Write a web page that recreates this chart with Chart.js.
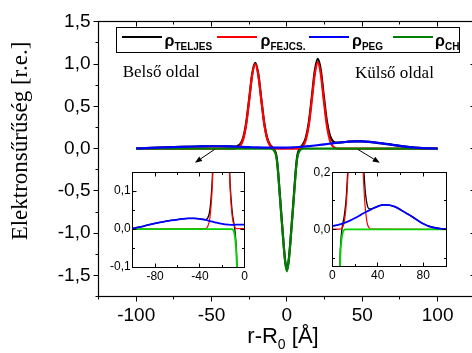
<!DOCTYPE html>
<html>
<head>
<meta charset="utf-8">
<script src="https://cdn.jsdelivr.net/npm/chart.js@4.4.1/dist/chart.umd.min.js"></script>
<style>
  html, body { margin: 0; padding: 0; background: #fff; }
  body { width: 472px; height: 353px; overflow: hidden; position: relative;
         font-family: 'Liberation Sans', Arial, sans-serif; color: #000; }
  canvas { position: absolute; }
  #main   { left: 0; top: 0; }
  #insetL { left: 102px; top: 163px; }
  #insetR { left: 302px; top: 163px; }
  .txt   { position: absolute; white-space: nowrap; }
  .serif { font-family: 'Liberation Serif', 'Times New Roman', serif; }
  #legend { position: absolute; left: 115.7px; top: 26.7px; width: 344.3px; height: 26.6px;
            border: 1px solid #000; box-sizing: border-box; background: #fff; }
  .lg-line { position: absolute; top: 36.2px; height: 2.2px; width: 40px; }
  .lg-lbl  { position: absolute; top: 33px; font-weight: bold; font-size: 16px; line-height: 16px; white-space: nowrap; }
  .lg-lbl span { font-size: 10px; position: relative; top: 3.5px; }
  #ytitle { left: -110px; top: 129px; width: 260px; height: 24px; line-height: 24px; font-size: 23px;
            text-align: center; transform: rotate(-90deg); }
  #xtitle { left: 183px; top: 324.7px; width: 200px; line-height: 22px; font-size: 22px; text-align: center; }
  #xtitle span { font-size: 14px; position: relative; top: 6px; }
</style>
</head>
<body>
<canvas id="main" width="480" height="353"></canvas>
<canvas id="insetL" width="148" height="127"></canvas>
<canvas id="insetR" width="160" height="127"></canvas>

<div id="legend"></div>
<div class="txt serif" style="left:122.7px; top:62.5px; font-size:17px; line-height:17px;">Belső oldal</div>
<div class="txt serif" style="left:355px; top:64.1px; font-size:17px; line-height:17px;">Külső oldal</div>
<div id="ytitle" class="txt serif">Elektronsűrűség [r.e.]</div>
<div id="xtitle" class="txt">r-R<span>0</span> [Å]</div>

<script>
/* ---- adatok ---- */
const SERIES = ['TELJES', 'FEJCS.', 'PEG', 'CH'];

// teljes elektronsűrűség
const xTeljes = [-100, -90, -80, -70, -60, -50, -45, -40, -35, -33, -31, -29, -27, -25, -23, -21, -19, -17, -15, -13,
                 -11, -10, -9, -8, -7, -6, -5, -4, -3, -2, -1, 0, 1, 2, 3, 4, 5, 6, 7, 8, 9, 10, 10.5,
                 12.5, 14.5, 16.5, 18.5, 20.5, 22.5, 24.5, 26.5, 28.5, 30.5, 32.5, 34.5, 40, 45, 50, 60, 70, 80, 90, 100];
const yTeljes = [0.002, 0.008, 0.015, 0.021, 0.025, 0.028, 0.028, 0.027, 0.025, 0.029, 0.052, 0.128, 0.306, 0.592, 0.887, 1.015, 0.885, 0.588, 0.300, 0.121,
                 0.042, 0.022, 0.004, -0.026, -0.083, -0.238, -0.468, -0.708, -0.938, -1.168, -1.348, -1.438, -1.347, -1.166, -0.935, -0.705, -0.464, -0.232, -0.076, -0.017, 0.015, 0.036, 0.047,
                 0.125, 0.303, 0.602, 0.918, 1.061, 0.927, 0.619, 0.328, 0.158, 0.089, 0.072, 0.072, 0.081, 0.086, 0.085, 0.069, 0.045, 0.020, 0.006, 0.001];

// fejcsoport
const xFejcs = [-100, -35, -33, -31, -29, -27, -25, -23, -21, -19, -17, -15, -13, -11, -9, -7,
                6.5, 8.5, 10.5, 12.5, 14.5, 16.5, 18.5, 20.5, 22.5, 24.5, 26.5, 28.5, 30.5, 32.5, 34.5, 100];
const yFejcs = [0, 0.001, 0.007, 0.031, 0.109, 0.288, 0.575, 0.871, 1.000, 0.871, 0.575, 0.288, 0.109, 0.031, 0.007, 0.001,
                0.001, 0.005, 0.026, 0.099, 0.274, 0.569, 0.881, 1.020, 0.881, 0.569, 0.274, 0.099, 0.026, 0.005, 0.001, 0];

// PEG réteg
const xPeg = [-100, -90, -80, -70, -60, -50, -45, -40, -35, -30, -25, -20, -15, -10, -5, 0,
              5, 10, 15, 20, 25, 30, 35, 40, 45, 50, 55, 60, 65, 70, 75, 80, 85, 90, 95, 100];
const yPeg = [0.002, 0.008, 0.015, 0.021, 0.025, 0.028, 0.028, 0.027, 0.024, 0.020, 0.017, 0.014, 0.012, 0.011, 0.012, 0.012,
              0.016, 0.022, 0.030, 0.040, 0.051, 0.062, 0.072, 0.081, 0.086, 0.085, 0.080, 0.069, 0.057, 0.045, 0.032, 0.020, 0.011, 0.006, 0.003, 0.001];

// szénhidrogén lánc
const xCh = [-100, -11, -10, -9, -8, -7, -6, -5, -4, -3, -2, -1, 0, 1, 2, 3, 4, 5, 6, 7, 8, 9, 10, 11, 100];
const yCh = [0, 0, -0.004, -0.014, -0.04, -0.095, -0.25, -0.48, -0.72, -0.95, -1.18, -1.36, -1.45,
             -1.36, -1.18, -0.95, -0.72, -0.48, -0.25, -0.095, -0.04, -0.014, -0.004, 0, 0];

// tengely-osztások
const X_TICKS = [-100, -50, 0, 50, 100];
const X_MINOR = [-125, -75, -25, 25, 75, 125];
const Y_TICKS = [-1.5, -1.0, -0.5, 0.0, 0.5, 1.0, 1.5];
const Y_MINOR = [-1.75, -1.25, -0.75, -0.25, 0.25, 0.75, 1.25];

const XL_TICKS = [-80, -40, 0];
const XL_MINOR = [-100, -60, -20];
const YL_TICKS = [-0.1, 0.0, 0.1];
const YL_MINOR = [-0.05, 0.05, 0.15];

const XR_TICKS = [0, 40, 80];
const XR_MINOR = [20, 60, 100];
const YR_TICKS = [0.0, 0.2];
const YR_MINOR = [-0.1, 0.1];

// nyilak a betétekhez (adatkoordinátában)
const ARROWS = [
  { from: [-48, -0.01], to: [-61, -0.166] },
  { from: [47.2, -0.01], to: [61.6, -0.166] }
];

const SANS = "'Liberation Sans', Arial, sans-serif";
const comma = v => v.toFixed(1).replace('.', ',');

/* ---- keret + osztásvonalak ---- */
const framePlugin = {
  id: 'frame',
  afterDraw(chart, args, o) {
    const { ctx, chartArea: a, scales: { x, y } } = chart;
    const snap = v => Math.round(v - 0.5) + 0.5;
    const L = snap(a.left), R = snap(a.right), T = snap(a.top), B = snap(a.bottom);
    ctx.save();
    ctx.strokeStyle = '#000';
    ctx.lineWidth = o.lw;
    ctx.strokeRect(L, T, R - L, B - T);
    ctx.lineWidth = 1;
    ctx.beginPath();
    const out = o.outside ? 1 : -1;
    const xt = (vals, len) => vals.forEach(v => {
      const px = snap(x.getPixelForValue(v));
      ctx.moveTo(px, B); ctx.lineTo(px, B + out * len);   // alsó
      ctx.moveTo(px, T); ctx.lineTo(px, T + len);         // felső, befelé
    });
    const yt = (vals, len) => vals.forEach(v => {
      const py = snap(y.getPixelForValue(v));
      ctx.moveTo(L, py); ctx.lineTo(L - out * len, py);   // bal
      ctx.moveTo(R, py); ctx.lineTo(R - len, py);         // jobb, befelé
    });
    xt(o.xMajor, o.major); xt(o.xMinor, o.minor);
    yt(o.yMajor, o.major); yt(o.yMinor, o.minor);
    ctx.stroke();
    ctx.restore();
  }
};

/* ---- nyilak ---- */
const arrowPlugin = {
  id: 'arrows',
  afterDatasetsDraw(chart, args, o) {
    if (!o.list) return;
    const { ctx, scales: { x, y } } = chart;
    ctx.save();
    ctx.strokeStyle = '#000';
    ctx.fillStyle = '#000';
    ctx.lineWidth = 1;
    o.list.forEach(ar => {
      const x0 = x.getPixelForValue(ar.from[0]), y0 = y.getPixelForValue(ar.from[1]);
      const x1 = x.getPixelForValue(ar.to[0]),   y1 = y.getPixelForValue(ar.to[1]);
      const ang = Math.atan2(y1 - y0, x1 - x0);
      const hl = 7, hw = 2.8;
      const bx = x1 - hl * Math.cos(ang), by = y1 - hl * Math.sin(ang);
      ctx.beginPath(); ctx.moveTo(x0, y0); ctx.lineTo(bx, by); ctx.stroke();
      ctx.beginPath();
      ctx.moveTo(x1, y1);
      ctx.lineTo(bx + hw * Math.sin(ang), by - hw * Math.cos(ang));
      ctx.lineTo(bx - hw * Math.sin(ang), by + hw * Math.cos(ang));
      ctx.closePath(); ctx.fill();
    });
    ctx.restore();
  }
};

function lineDs(label, xs, ys, color, width, order) {
  return {
    label, order,
    data: xs.map((x, i) => ({ x, y: ys[i] })),
    borderColor: color,
    borderWidth: width,
    pointRadius: 0,
    fill: false,
    cubicInterpolationMode: 'monotone',
    clip: 0
  };
}

function axis(min, max, ticks, fmt, size, pad, fitKey, fitVal) {
  return {
    type: 'linear', min, max,
    grid: { display: false, drawTicks: false },
    border: { display: false },
    afterBuildTicks: s => { s.ticks = ticks.map(v => ({ value: v })); },
    afterFit: s => { s[fitKey] = fitVal; },
    ticks: { autoSkip: false, maxRotation: 0, color: '#000', padding: pad,
             font: { family: SANS, size }, callback: v => fmt(v) }
  };
}

function makeChart(id, datasets, sc, frame, padding, arrows) {
  return new Chart(document.getElementById(id), {
    type: 'line',
    data: { datasets },
    options: {
      responsive: false,
      animation: false,
      events: [],
      layout: { padding },
      scales: { x: sc.x, y: sc.y },
      plugins: {
        legend: { display: false },
        tooltip: { enabled: false },
        frame,
        arrows: { list: arrows }
      }
    },
    plugins: [framePlugin, arrowPlugin]
  });
}

/* ---- fő ábra ---- */
const COLORS_MAIN = ['#000000', '#ff0000', '#0000ff', '#008000'];
makeChart('main', [
  lineDs(SERIES[0], xTeljes, yTeljes, COLORS_MAIN[0], 2.2, 4),
  lineDs(SERIES[1], xFejcs,  yFejcs,  COLORS_MAIN[1], 2.2, 3),
  lineDs(SERIES[3], xCh,     yCh,     COLORS_MAIN[3], 2.2, 2),
  lineDs(SERIES[2], xPeg,    yPeg,    COLORS_MAIN[2], 2.2, 1)
], {
  x: axis(-125, 125, X_TICKS, v => String(v), 19, 7.5, 'height', 56.3),
  y: axis(-1.75, 1.5, Y_TICKS, comma, 19, 8, 'width', 98.5)
}, { xMajor: X_TICKS, xMinor: X_MINOR, yMajor: Y_TICKS, yMinor: Y_MINOR, major: 5, minor: 3, outside: true, lw: 1.2 },
{ top: 21.7, right: 4.7, bottom: 0, left: 0 }, ARROWS);

/* ---- betétek ---- */
const COLORS_INSET = ['#000000', '#ff0000', '#0000ff', '#00d400'];
function insetSets() {
  return [
    lineDs(SERIES[0], xTeljes, yTeljes, COLORS_INSET[0], 1.3, 4),
    lineDs(SERIES[1], xFejcs,  yFejcs,  COLORS_INSET[1], 1.2, 3),
    lineDs(SERIES[3], xCh,     yCh,     COLORS_INSET[3], 1.8, 2),
    lineDs(SERIES[2], xPeg,    yPeg,    COLORS_INSET[2], 1.8, 1)
  ];
}

makeChart('insetL', insetSets(), {
  x: axis(-100, 0, XL_TICKS, v => String(v), 12, 2, 'height', 23),
  y: axis(-0.1, 0.15, YL_TICKS, comma, 12, 2, 'width', 30.7)
}, { xMajor: XL_TICKS, xMinor: XL_MINOR, yMajor: YL_TICKS, yMinor: YL_MINOR, major: 4, minor: 2.5, outside: false, lw: 1 },
{ top: 7.7, right: 4.7, bottom: 0, left: 0 });

makeChart('insetR', insetSets(), {
  x: axis(0, 100, XR_TICKS, v => String(v), 12, 2, 'height', 23.3),
  y: axis(-0.13, 0.2, YR_TICKS, comma, 12, 2, 'width', 30.3)
}, { xMajor: XR_TICKS, xMinor: XR_MINOR, yMajor: YR_TICKS, yMinor: YR_MINOR, major: 4, minor: 2.5, outside: false, lw: 1 },
{ top: 7.7, right: 16, bottom: 0, left: 0 });

/* ---- jelmagyarázat ---- */
const LEGEND_POS = [[121.7, 164.5], [216.7, 260.5], [309.3, 352], [392.7, 435]];
SERIES.forEach((name, i) => {
  const line = document.createElement('div');
  line.className = 'lg-line';
  line.style.left = LEGEND_POS[i][0] + 'px';
  line.style.background = COLORS_MAIN[i];
  document.body.appendChild(line);
  const lbl = document.createElement('div');
  lbl.className = 'lg-lbl';
  lbl.style.left = LEGEND_POS[i][1] + 'px';
  lbl.innerHTML = 'ρ<span>' + name + '</span>';
  document.body.appendChild(lbl);
});
</script>
</body>
</html>
